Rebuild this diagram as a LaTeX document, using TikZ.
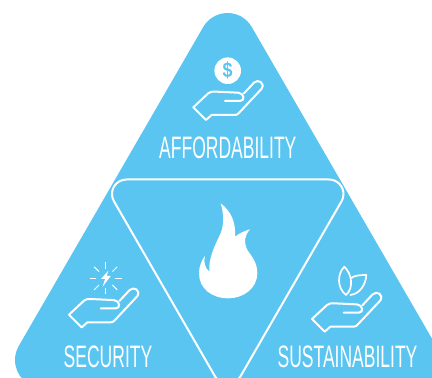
\documentclass[tikz,border=0pt]{standalone}
\usepackage{fontspec}
\setmainfont{Liberation Sans}[FakeStretch=0.565]
\newfontfamily\coinfont{Liberation Sans}[FakeStretch=0.85]
\usetikzlibrary{calc}
\definecolor{skyb}{HTML}{5BC5F2}
\tikzset{
  iconline/.style={draw=white,line width=2pt,line join=round,line cap=round},
  label/.style={text=white,font=\fontsize{31}{31}\selectfont,anchor=base,inner sep=0pt},
  hand/.pic={
    \begin{scope}[yscale=-1]
    \draw[iconline] (0,0) -- (15,-14) .. controls (17,-15.7) and (19,-15.7) .. (21.7,-15.7)
      -- (45,-14.6) .. controls (51,-14.2) and (52,-6.3) .. (46.7,-6.3) -- (31.7,-6.3);
    \draw[iconline] (0,0) -- (12.7,12.7) -- (18.3,7.7) -- (41.7,7.7)
      .. controls (43.5,7.7) and (44.5,6.8) .. (45.7,5.6)
      -- (68.3,-18.5) .. controls (72,-24) and (65,-29) .. (60.5,-24.5) -- (50.5,-13.8);
    \end{scope}
  }
}
\begin{document}
\begin{tikzpicture}[x=1pt,y=1pt]
\clip (0,0) rectangle (432,378);
\begin{scope}[yscale=-1,yshift=-378pt]
% outer triangle
\coordinate (ot) at (227.5,41);
\coordinate (or) at (412,360);
\coordinate (ol) at (43,360);
\fill[skyb] ($(ot)+(210:28)$) arc[start angle=210,end angle=330,radius=28pt]
  -- ($(or)+(-30:28)$) arc[start angle=-30,end angle=90,radius=28pt]
  -- ($(ol)+(90:28)$) arc[start angle=90,end angle=210,radius=28pt] -- cycle;
% inner triangle
\coordinate (il) at (126.5,194);
\coordinate (ir) at (329,194);
\coordinate (ib) at (227.75,369.4);
\draw[white,line width=2pt] ($(il)+(150:14.5)$) arc[start angle=150,end angle=270,radius=14.5pt]
  -- ($(ir)+(270:14.5)$) arc[start angle=270,end angle=390,radius=14.5pt]
  -- ($(ib)+(30:14.5)$) arc[start angle=30,end angle=150,radius=14.5pt] -- cycle;
% flame
\begin{scope}[shift={(100,170)},scale=0.3333]
\fill[white] (362,100) .. controls (395,125) and (408,160) .. (405,200)
  .. controls (418,190) and (432,183) .. (450,178)
  .. controls (435,195) and (430,215) .. (442,240)
  .. controls (458,262) and (472,280) .. (472,310)
  .. controls (472,355) and (430,385) .. (385,385)
  .. controls (335,385) and (297,355) .. (297,310)
  .. controls (297,290) and (305,270) .. (315,258)
  .. controls (310,275) and (315,295) .. (328,305)
  .. controls (325,265) and (345,225) .. (362,190)
  .. controls (372,165) and (372,130) .. (362,100) -- cycle;
\end{scope}
% hands
\pic at (193.3,107.3) {hand};
\pic at (69,314.7) {hand};
\pic at (312,319) {hand};
% coin
\node[circle,fill=white,minimum size=26.6pt,inner sep=0pt,text=skyb,font=\coinfont\fontsize{21}{21}\selectfont\bfseries] (coin) at (227.7,70.7) {\$};
% burst
\begin{scope}[shift={(105.7,278.3)}]
\foreach \a in {0,45,...,315}
  \draw[white,line width=1pt] (\a:9.5) -- (\a:16.2);
\fill[white] (2.7,-7.7) -- (-4.7,.7) -- (-.7,.7) -- (-3,8.3) -- (5,-2.3) -- (1,-2.3) -- cycle;
\end{scope}
% leaves
\draw[iconline,line width=1.7pt] (346,295) .. controls (337,288) and (337,274) .. (344.3,266.7)
  .. controls (352,274) and (354,288) .. (346,295);
\draw[iconline,line width=1.7pt] (351.5,278) .. controls (354,275.5) and (360,275) .. (366.3,275)
  .. controls (366,284) and (360,294) .. (350.3,295);
% labels
\node[label] (afford) at (227.8,158.3) {AFFORDABILITY};
\node[label] (secur) at (108,367.7) {SECURITY};
\node[label] (sustain) at (347.5,367.7) {SUSTAINABILITY};
\end{scope}
\end{tikzpicture}
\end{document}
